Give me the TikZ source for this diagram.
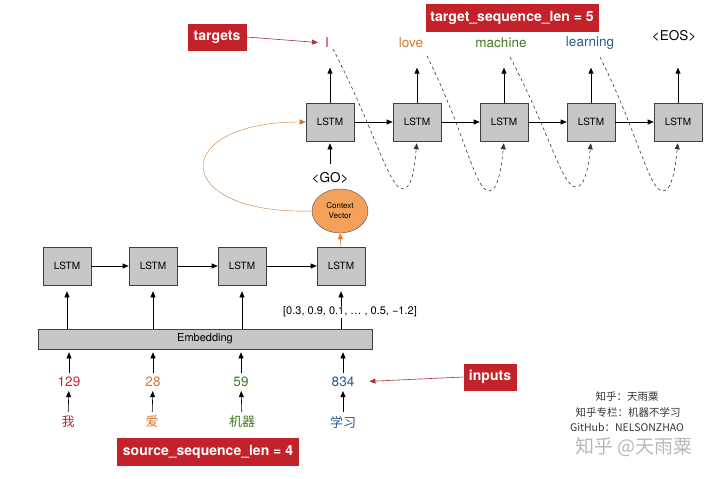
\documentclass[tikz,border=0pt]{standalone}
\usepackage{fontspec}
\setmainfont{TeX Gyre Heros}
\newfontfamily\cjk{Noto Sans CJK SC}
\usetikzlibrary{arrows.meta,shapes.geometric}
\definecolor{tagred}{HTML}{C4222B}
\definecolor{linered}{HTML}{A93038}
\definecolor{wred}{HTML}{BE2A33}
\definecolor{worange}{HTML}{D4772C}
\definecolor{wgreen}{HTML}{3F7A21}
\definecolor{wblue}{HTML}{295A8A}
\definecolor{ctxfill}{HTML}{F4A25B}
\definecolor{ctxline}{HTML}{C77A35}
\definecolor{ctxarrow}{HTML}{E07B22}
\tikzset{
  lstm/.style={draw=black!75, fill=black!22, semithick, minimum width=48pt,
    minimum height=38pt, inner sep=0pt, font=\fontsize{10}{12}\selectfont},
  tag/.style={fill=tagred, text=white, inner sep=0pt, minimum height=27pt,
    font=\bfseries\fontsize{14}{16}\selectfont},
  word/.style={inner sep=1pt, font=\fontsize{13.5}{16}\selectfont},
  zh/.style={inner sep=1pt, font=\cjk\fontsize{13}{16}\selectfont},
  feed/.style={->, semithick},
  recur/.style={->, semithick, dashed, black!80},
  note/.style={inner sep=0pt, text=black!80, font=\cjk\fontsize{10.5}{12}\selectfont},
}
\begin{document}
\begin{tikzpicture}[x=1pt, y=-1pt, >={Triangle[length=6pt,width=5pt]}]
  \useasboundingbox (0,0) rectangle (720,479);
  % encoder
  \node[lstm] (e1) at (67,266) {LSTM};
  \node[lstm] (e2) at (153,266) {LSTM};
  \node[lstm] (e3) at (242,266) {LSTM};
  \node[lstm] (e4) at (341,266) {LSTM};
  \draw[feed] (e1) -- (e2);
  \draw[feed] (e2) -- (e3);
  \draw[feed] (e3) -- (e4);
  \node[draw=black!75, fill=black!22, semithick, minimum width=334pt, minimum height=20pt,
    inner sep=0pt, font=\fontsize{11}{13}\selectfont] (emb) at (205,339) {Embedding};
  \draw[feed, shorten >=6pt] (e1.south |- emb.north) -- (e1.south);
  \draw[feed, shorten >=6pt] (e2.south |- emb.north) -- (e2.south);
  \draw[feed, shorten >=6pt] (e3.south |- emb.north) -- (e3.south);
  \draw[feed, shorten >=6pt] (e4.south |- emb.north) -- (e4.south);
  \node[fill=white, inner sep=1pt, font=\fontsize{11}{13}\selectfont] (vec) at (350,312)
    {[0.3, 0.9, 0.1, … , 0.5, −1.2]};
  % inputs
  \node[word, text=wred] (n1) at (69,382) {129};
  \node[word, text=worange] (n2) at (153,382) {28};
  \node[word, text=wgreen] (n3) at (241,382) {59};
  \node[word, text=wblue] (n4) at (343,382) {834};
  \node[zh, text=wred] (c1) at (68,422) {我};
  \node[zh, text=worange] (c2) at (152,422) {爱};
  \node[zh, text=wgreen] (c3) at (242,422) {机器};
  \node[zh, text=wblue] (c4) at (343,422) {学习};
  \draw[feed, shorten <=3pt, shorten >=3pt] (n1.north) -- (n1.north |- emb.south);
  \draw[feed, shorten <=3pt, shorten >=3pt] (n2.north) -- (n2.north |- emb.south);
  \draw[feed, shorten <=3pt, shorten >=3pt] (n3.north) -- (n3.north |- emb.south);
  \draw[feed, shorten <=3pt, shorten >=3pt] (n4.north) -- (n4.north |- emb.south);
  \draw[feed, shorten <=3pt, shorten >=3pt] (c1) -- (n1);
  \draw[feed, shorten <=3pt, shorten >=3pt] (c2) -- (n2);
  \draw[feed, shorten <=3pt, shorten >=3pt] (c3) -- (n3);
  \draw[feed, shorten <=3pt, shorten >=3pt] (c4) -- (n4);
  % context vector
  \node[ellipse, draw=black!70, fill=ctxfill, minimum width=56pt, minimum height=44pt,
    inner sep=0pt, align=center, font=\fontsize{8}{10}\selectfont] (ctx) at (340,211) {Context\\Vector};
  \draw[->, semithick, ctxarrow] (e4.north) -- (ctx.south);
  % decoder
  \node[lstm] (d1) at (330,122) {LSTM};
  \node[lstm] (d2) at (417,122) {LSTM};
  \node[lstm] (d3) at (504,122) {LSTM};
  \node[lstm] (d4) at (591,122) {LSTM};
  \node[lstm] (d5) at (678,122) {LSTM};
  \draw[feed] (d1) -- (d2);
  \draw[feed] (d2) -- (d3);
  \draw[feed] (d3) -- (d4);
  \draw[feed] (d4) -- (d5);
  \draw[->, ctxline] (ctx.west) .. controls (170,215) and (168,122) .. (d1.west);
  \node[word] (go) at (330,178) {<GO>};
  \draw[feed, shorten <=7pt, shorten >=2pt] (go.north) -- (d1.south);
  % outputs
  \node[word, text=wred] (w1) at (327,43) {I};
  \node[word, text=worange] (w2) at (411,43) {love};
  \node[word, text=wgreen] (w3) at (501,43) {machine};
  \node[word, text=wblue] (w4) at (590,43) {learning};
  \node[word] (w5) at (674,36) {<EOS>};
  \draw[feed] (d1.north) -- ++(0,-35);
  \draw[feed] (d2.north) -- ++(0,-35);
  \draw[feed] (d3.north) -- ++(0,-35);
  \draw[feed] (d4.north) -- ++(0,-35);
  \draw[feed] (d5.north) -- ++(0,-35);
  % feeding back
  \coordinate (s1) at (333,49);  \coordinate (b1) at (403,189);
  \coordinate (s2) at (427,56);  \coordinate (b2) at (489,191);
  \coordinate (s3) at (510,57);  \coordinate (b3) at (576,187);
  \coordinate (s4) at (600,57);  \coordinate (b4) at (663,191);
  \draw[recur, shorten >=2pt] (s1) .. controls +(42,81) and +(-14,0) .. (b1)
    .. controls +(10,0) and +(-2,20) .. (d2.south);
  \draw[recur, shorten >=2pt] (s2) .. controls +(38,76) and +(-14,0) .. (b2)
    .. controls +(10,0) and +(-2,20) .. (d3.south);
  \draw[recur, shorten >=2pt] (s3) .. controls +(40,76) and +(-14,0) .. (b3)
    .. controls +(10,0) and +(-2,20) .. (d4.south);
  \draw[recur, shorten >=2pt] (s4) .. controls +(38,76) and +(-14,0) .. (b4)
    .. controls +(10,0) and +(-2,20) .. (d5.south);
  % labels
  \node[tag, minimum width=59pt] (tg) at (217,37) {targets};
  \node[tag, minimum width=173pt, minimum height=28pt] (tlen) at (512,18) {target\_sequence\_len = 5};
  \node[tag, minimum width=182pt, minimum height=28pt] (slen) at (208,452) {source\_sequence\_len = 4};
  \node[tag, minimum width=53pt] (inp) at (490,377) {inputs};
  \draw[->, semithick, linered, shorten >=6pt] (tg.east) -- (w1.west);
  \draw[->, semithick, linered, shorten >=14pt] (inp.west) -- (n4.east);
  % watermark
  \node[note] (wm1) at (627,397) {知乎：天雨粟};
  \node[note] (wm2) at (628,412) {知乎专栏：机器不学习};
  \node[note] (wm3) at (627,427) {GitHub：NELSONZHAO};
  \node[inner sep=0pt, text=black!28, font=\cjk\fontsize{19}{22}\selectfont] (wm4) at (634,447) {知乎 @天雨粟};
\end{tikzpicture}
\end{document}
